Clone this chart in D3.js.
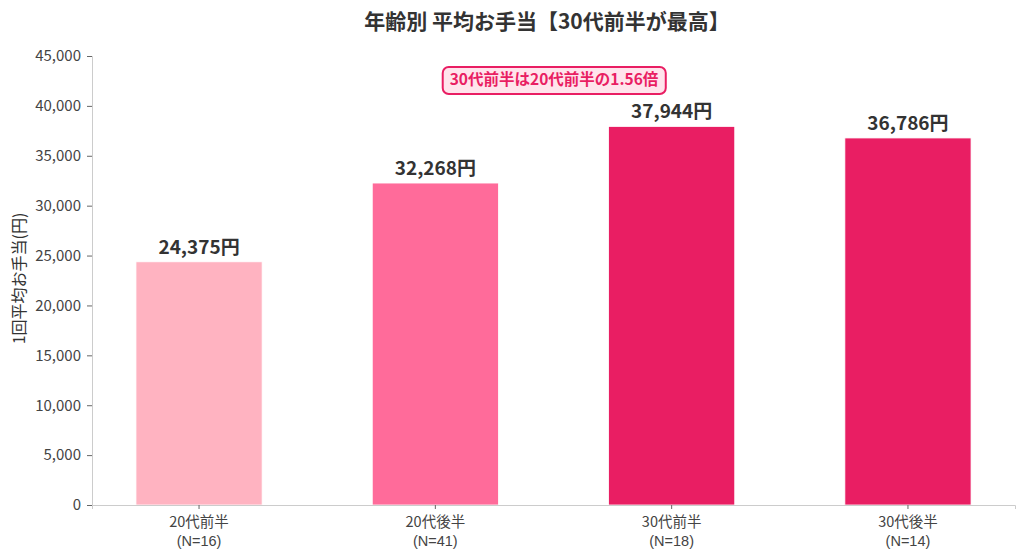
<!DOCTYPE html>
<html>
<head>
<meta charset="utf-8">
<script src="https://cdn.jsdelivr.net/npm/d3@7"></script>
<style>
  body { margin: 0; background: #fff; }
  text { font-family: "Noto Sans CJK JP", "Noto Sans", sans-serif; }
</style>
</head>
<body>
<div id="chart"></div>
<script>
// data
const categories = ["20代前半", "20代後半", "30代前半", "30代後半"];
const counts = [16, 41, 18, 14];
const values = [24375, 32268, 37944, 36786];
const barColors = ["#FFB3C1", "#FF6B9A", "#E91E63", "#E91E63"];
const yTicks = [0, 5000, 10000, 15000, 20000, 25000, 30000, 35000, 40000, 45000];

const width = 1024, height = 559;
const margin = {top: 56, right: 9, bottom: 54, left: 92};
const innerW = width - margin.left - margin.right;
const innerH = height - margin.top - margin.bottom;

const svg = d3.select("#chart").append("svg")
    .attr("width", width)
    .attr("height", height);

const g = svg.append("g")
    .attr("transform", `translate(${margin.left},${margin.top})`);

const x = d3.scaleBand()
    .domain(categories)
    .range([0, innerW])
    .paddingInner(0.466)
    .paddingOuter(0.186);

const y = d3.scaleLinear()
    .domain([0, 45000])
    .range([innerH, 0]);

// bars
g.selectAll("rect.bar")
    .data(values)
    .enter()
    .append("rect")
    .attr("class", "bar")
    .attr("x", (d, i) => x(categories[i]))
    .attr("y", d => y(d))
    .attr("width", x.bandwidth())
    .attr("height", d => innerH - y(d))
    .attr("fill", (d, i) => barColors[i])
    .attr("stroke", "#fff")
    .attr("stroke-width", 0.8);

// value labels
g.selectAll("text.val")
    .data(values)
    .enter()
    .append("text")
    .attr("class", "val")
    .attr("x", (d, i) => x(categories[i]) + x.bandwidth() / 2)
    .attr("y", d => y(d) - 8)
    .attr("text-anchor", "middle")
    .attr("font-size", 19)
    .attr("font-weight", "bold")
    .attr("fill", "#333")
    .text(d => d3.format(",")(d) + "円");

// y axis
const yAxis = g.append("g")
    .call(d3.axisLeft(y).tickValues(yTicks).tickFormat(d3.format(",")).tickSizeOuter(0).tickSize(5).tickPadding(6));
yAxis.select(".domain").attr("stroke", "#ccc");
yAxis.selectAll(".tick line").attr("stroke", "#666");
yAxis.selectAll(".tick text")
    .attr("font-size", 15)
    .attr("fill", "#444")
    .style("font-family", "'Noto Sans CJK JP', sans-serif");

// x axis
const xAxis = g.append("g")
    .attr("transform", `translate(0,${innerH})`)
    .call(d3.axisBottom(x).tickSizeOuter(0).tickSize(4).tickFormat(""));
xAxis.select(".domain").attr("stroke", "#ccc");
xAxis.selectAll(".tick line").attr("stroke", "#666");

// x labels: category and N on two lines
g.selectAll("text.cat")
    .data(categories)
    .enter()
    .append("text")
    .attr("class", "cat")
    .attr("x", d => x(d) + x.bandwidth() / 2)
    .attr("y", innerH + 22)
    .attr("text-anchor", "middle")
    .attr("font-size", 14.5)
    .attr("fill", "#444")
    .text(d => d);

// N line uses a Latin font with tighter metrics so it sits close under the category
g.selectAll("text.n")
    .data(counts)
    .enter()
    .append("text")
    .attr("class", "n")
    .attr("x", (d, i) => x(categories[i]) + x.bandwidth() / 2)
    .attr("y", innerH + 41)
    .attr("text-anchor", "middle")
    .attr("font-size", 14.5)
    .attr("fill", "#444")
    .style("font-family", "'Liberation Sans', sans-serif")
    .text(d => `(N=${d})`);

// y axis label
svg.append("text")
    .attr("transform", "rotate(-90)")
    .attr("x", -(margin.top + innerH / 2 - 2))
    .attr("y", 25)
    .attr("text-anchor", "middle")
    .attr("font-size", 16)
    .attr("fill", "#333")
    .text("1回平均お手当(円)");

// title
svg.append("text")
    .attr("x", 547)
    .attr("y", 29)
    .attr("text-anchor", "middle")
    .attr("font-size", 21)
    .attr("font-weight", "bold")
    .attr("fill", "#333")
    .text("年齢別 平均お手当【30代前半が最高】");

// annotation box
const ratio = values[2] / values[0];
const ann = svg.append("g").attr("transform", "translate(554,80)");
const annText = ann.append("text")
    .attr("text-anchor", "middle")
    .attr("dy", "0.35em")
    .attr("font-size", 15.5)
    .attr("font-weight", "bold")
    .attr("fill", "#E91E63")
    .text(`30代前半は20代前半の${ratio.toFixed(2)}倍`);
const bb = annText.node().getBBox();
ann.insert("rect", "text")
    .attr("x", bb.x - 7)
    .attr("y", -13)
    .attr("width", bb.width + 14)
    .attr("height", 27)
    .attr("rx", 6)
    .attr("fill", "#FFE4EC")
    .attr("stroke", "#E91E63")
    .attr("stroke-width", 2);
</script>
</body>
</html>
